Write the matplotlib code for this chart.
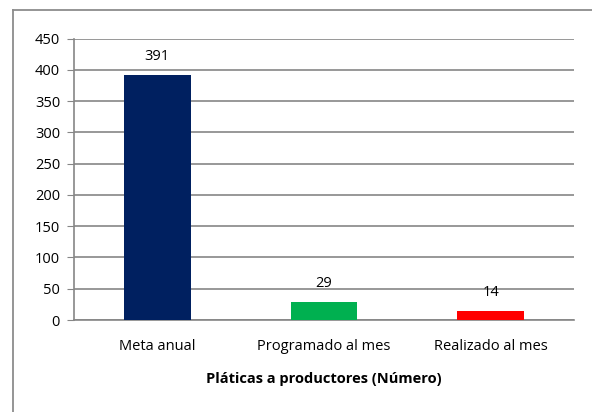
import matplotlib.pyplot as plt
from matplotlib.lines import Line2D

categories = ["Meta anual", "Programado al mes", "Realizado al mes"]
values = [391, 29, 14]
colors = ["#002060", "#00B050", "#FF0000"]
yticks = [0, 50, 100, 150, 200, 250, 300, 350, 400, 450]

plt.rcParams['font.family'] = ['Open Sans', 'DejaVu Sans']

fig = plt.figure(figsize=(5.92, 4.12), dpi=100)
ax = fig.add_axes([74 / 592, 1 - 320 / 412, 500 / 592, (320 - 38.5) / 412])

# outer chart border (only left and top edges visible in the picture)
bx, by = 12.5 / 592, 1 - 9.5 / 412
fig.lines.append(Line2D([bx, bx], [0, by], transform=fig.transFigure,
                        color="#8c8c8c", linewidth=1.3))
fig.lines.append(Line2D([bx, 1], [by, by], transform=fig.transFigure,
                        color="#8c8c8c", linewidth=1.3))

x = range(len(categories))
ax.bar(x, values, width=0.4, color=colors, zorder=3)
for i, v in enumerate(values):
    ax.text(i, v + 18, str(v), ha='center', va='bottom', fontsize=10.5)

ax.set_xlim(-0.5, 2.5)
ax.set_ylim(0, 450)
ax.set_yticks(yticks)
ax.set_xticks(list(x))
ax.set_xticklabels(categories, fontsize=10.5)
ax.tick_params(axis='y', labelsize=10.5, length=5, color="#868686", pad=5)
ax.tick_params(axis='x', length=0, pad=14)
ax.yaxis.grid(True, color="#868686", linewidth=1.2, zorder=0)

for s in ['top', 'right']:
    ax.spines[s].set_visible(False)
ax.spines['left'].set_color("#868686")
ax.spines['bottom'].set_color("#868686")
ax.spines['left'].set_linewidth(1.2)
ax.spines['bottom'].set_linewidth(1.2)

ax.set_xlabel("Pláticas a productores (Número)", fontsize=10.5, fontweight='bold', labelpad=13)

fig.savefig("out.png", dpi=100)
